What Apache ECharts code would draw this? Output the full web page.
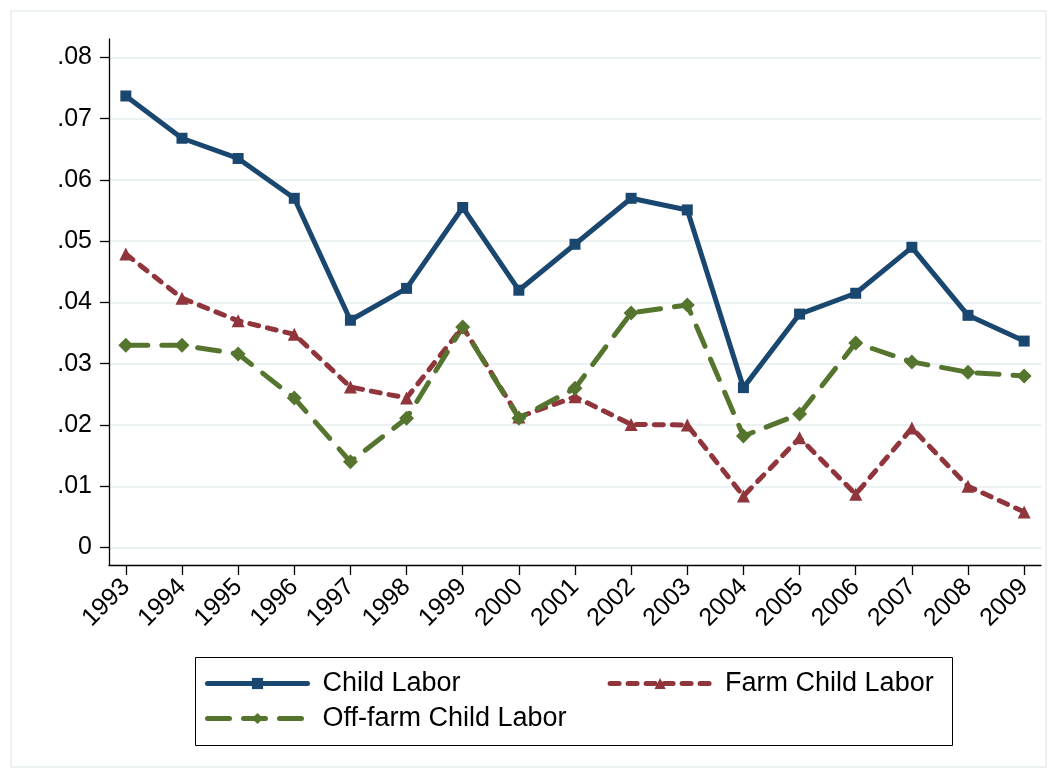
<!DOCTYPE html>
<html>
<head>
<meta charset="utf-8">
<script src="https://cdn.jsdelivr.net/npm/echarts@6/dist/echarts.min.js"></script>
<style>
  html, body { margin: 0; padding: 0; background: #fff; }
  #chart { width: 1053px; height: 774px; }
</style>
</head>
<body>
<div id="chart"></div>
<script>
  // years on the x axis
  var years = [1993, 1994, 1995, 1996, 1997, 1998, 1999, 2000, 2001,
    2002, 2003, 2004, 2005, 2006, 2007, 2008, 2009];
  var yTicks = [0, 0.01, 0.02, 0.03, 0.04, 0.05, 0.06, 0.07, 0.08];

  var childLabor = [0.0737, 0.0668, 0.0635, 0.0570, 0.0371, 0.0423, 0.0555, 0.0420, 0.0495,
    0.0570, 0.0551, 0.0261, 0.0381, 0.0415, 0.0490, 0.0379, 0.0337];
  var farmChildLabor = [0.0479, 0.0407, 0.0370, 0.0348, 0.0262, 0.0244, 0.0360, 0.0213, 0.0246,
    0.0201, 0.0200, 0.0084, 0.0179, 0.0087, 0.0195, 0.0100, 0.0058];
  var offFarmChildLabor = [0.0330, 0.0330, 0.0316, 0.0244, 0.0140, 0.0211, 0.0360, 0.0211, 0.0260,
    0.0383, 0.0396, 0.0182, 0.0218, 0.0334, 0.0303, 0.0286, 0.0280];

  function pairs(arr) {
    return years.map(function (y, i) { return [y, arr[i]]; });
  }

  var font = 'Liberation Sans, Arial, sans-serif';
  var chart = echarts.init(document.getElementById('chart'));

  var legendText = { fontSize: 27, fontFamily: font, color: '#000', padding: [0, 0, 0, 10] };

  chart.setOption({
    animation: false,
    backgroundColor: '#fff',
    grid: { left: 109, right: 12, top: 39, bottom: 209 },
    xAxis: {
      type: 'value',
      min: 1992.7,
      max: 2009.3,
      axisLine: { show: true, onZero: false, lineStyle: { color: '#000', width: 1.3 } },
      axisTick: { show: true, length: 10, customValues: years, lineStyle: { color: '#000', width: 1.3 } },
      axisLabel: {
        customValues: years,
        rotate: 45,
        margin: 18,
        color: '#000',
        fontSize: 25,
        fontFamily: font,
        formatter: function (v) { return String(Math.round(v)); }
      },
      splitLine: { show: false }
    },
    yAxis: {
      type: 'value',
      min: -0.00285,
      max: 0.083,
      axisLine: { show: true, onZero: false, lineStyle: { color: '#000', width: 1.3 } },
      axisTick: { show: true, length: 9, customValues: yTicks, lineStyle: { color: '#000', width: 1.3 } },
      axisLabel: {
        customValues: yTicks,
        margin: 17,
        color: '#000',
        fontSize: 25,
        fontFamily: font,
        formatter: function (v) {
          if (Math.abs(v) < 1e-9) return '0';
          return v.toFixed(2).replace(/^0/, '');
        }
      },
      splitLine: { show: true, lineStyle: { color: '#eaf2f3', width: 2 } }
    },
    legend: [{
      data: ['Child Labor', 'Farm Child Labor'],
      left: 205,
      top: 670,
      itemWidth: 100,
      itemHeight: 14,
      itemGap: 147,
      padding: 0,
      lineStyle: { width: 5 },
      textStyle: legendText
    }, {
      data: ['Off-farm Child Labor'],
      left: 205,
      top: 705,
      itemWidth: 100,
      itemHeight: 14,
      padding: 0,
      lineStyle: { width: 5 },
      textStyle: legendText
    }],
    graphic: [{
      type: 'rect',
      shape: { x: 11, y: 11, width: 1035, height: 756 },
      style: { fill: null, stroke: '#e6eef1', lineWidth: 1.5 },
      silent: true,
      z: -1
    }, {
      type: 'rect',
      shape: { x: 195.5, y: 657.5, width: 757, height: 88 },
      style: { fill: null, stroke: '#000', lineWidth: 1 },
      silent: true
    }],
    series: [{
      name: 'Child Labor',
      type: 'line',
      data: pairs(childLabor),
      symbol: 'rect',
      symbolSize: 11,
      itemStyle: { color: '#1a476f' },
      lineStyle: { color: '#1a476f', width: 5, cap: 'round', join: 'round' }
    }, {
      name: 'Farm Child Labor',
      type: 'line',
      data: pairs(farmChildLabor),
      symbol: 'triangle',
      symbolSize: 13,
      itemStyle: { color: '#90353b' },
      lineStyle: { color: '#90353b', width: 5, type: [9, 9], cap: 'round', join: 'round' }
    }, {
      name: 'Off-farm Child Labor',
      type: 'line',
      data: pairs(offFarmChildLabor),
      symbol: 'diamond',
      symbolSize: 15,
      itemStyle: { color: '#55752f' },
      lineStyle: { color: '#55752f', width: 5, type: [22, 14], cap: 'round', join: 'round' }
    }]
  });
</script>
</body>
</html>
